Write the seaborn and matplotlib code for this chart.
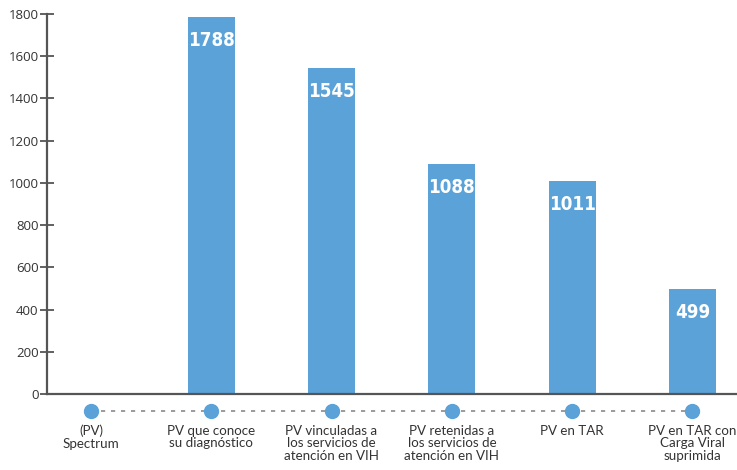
import numpy as np
import pandas as pd
import matplotlib
matplotlib.use("Agg")
import matplotlib.pyplot as plt
from matplotlib import font_manager
import seaborn as sns

categories = [
    "(PV)\nSpectrum",
    "PV que conoce\nsu diagnóstico",
    "PV vinculadas a\nlos servicios de\natención en VIH",
    "PV retenidas a\nlos servicios de\natención en VIH",
    "PV en TAR",
    "PV en TAR con\nCarga Viral\nsuprimida",
]
values = [np.nan, 1788, 1545, 1088, 1011, 499]
value_labels = ["", "1788", "1545", "1088", "1011", "499"]
y_ticks = [0, 200, 400, 600, 800, 1000, 1200, 1400, 1600, 1800]

BAR = "#5aa2d8"
AXIS = "#555555"
TEXT = "#333333"

sns.set_theme(style="white")
plt.rcParams["font.family"] = ["Lato", "DejaVu Sans"]

# pick a narrow bold face for the numbers inside the bars
names = {f.name for f in font_manager.fontManager.ttflist}
narrow = [f for f in font_manager.fontManager.ttflist
          if f.name == "DejaVu Sans" and f.stretch == "condensed"]
if "Liberation Sans Narrow" in names:
    num_font = dict(family="Liberation Sans Narrow", fontweight="bold")
elif narrow:
    num_font = dict(family="DejaVu Sans", fontstretch="condensed", fontweight="bold")
else:
    num_font = dict(family="Roboto", fontweight="bold")

df = pd.DataFrame({"etapa": categories, "personas": values})

fig = plt.figure(figsize=(7.37, 4.70), dpi=100)
ax = fig.add_axes([47 / 737, 76 / 470, 690 / 737, 380 / 470])

sns.barplot(data=df, x="etapa", y="personas", order=categories,
            color=BAR, saturation=1, width=0.39, linewidth=0, ax=ax)

ax.set_xlim(-0.365, 5.37)
ax.set_ylim(0, 1800)
ax.set_yticks(y_ticks)
ax.set_yticklabels([str(t) for t in y_ticks], fontsize=9.5, color=TEXT,
                   family=["Open Sans", "DejaVu Sans"])
ax.set_xlabel("")
ax.set_ylabel("")

for s in ["top", "right"]:
    ax.spines[s].set_visible(False)
for s in ["left", "bottom"]:
    ax.spines[s].set_color(AXIS)
    ax.spines[s].set_linewidth(1.6)

ax.tick_params(axis="y", direction="inout", length=10, width=1.3,
               color=AXIS, pad=1, left=True)
ax.tick_params(axis="x", length=0, pad=22)
for lbl in ax.get_xticklabels():
    lbl.set_fontsize(9.6)
    lbl.set_color(TEXT)
    lbl.set_linespacing(1.08)
    lbl.set_horizontalalignment("center")
    lbl.set_verticalalignment("top")

# value labels inside each bar
for i, (v, t) in enumerate(zip(values, value_labels)):
    if t:
        ax.annotate(t, xy=(i, v), xytext=(0, -17), textcoords="offset points",
                    ha="center", va="center", color="white", fontsize=13.5,
                    **num_font)

# connector of stages under the axis
xs = np.arange(len(categories))
trans = ax.get_xaxis_transform()
ax.plot(xs, np.full(len(xs), -0.046), transform=trans, clip_on=False,
        color="#8a8a8a", linewidth=1.2, linestyle=(0, (2.5, 3.5)), zorder=3)
ax.plot(xs, np.full(len(xs), -0.046), transform=trans, clip_on=False,
        linestyle="none", marker="o", markersize=10, color=BAR, zorder=4)

fig.savefig("out.png", dpi=100)
